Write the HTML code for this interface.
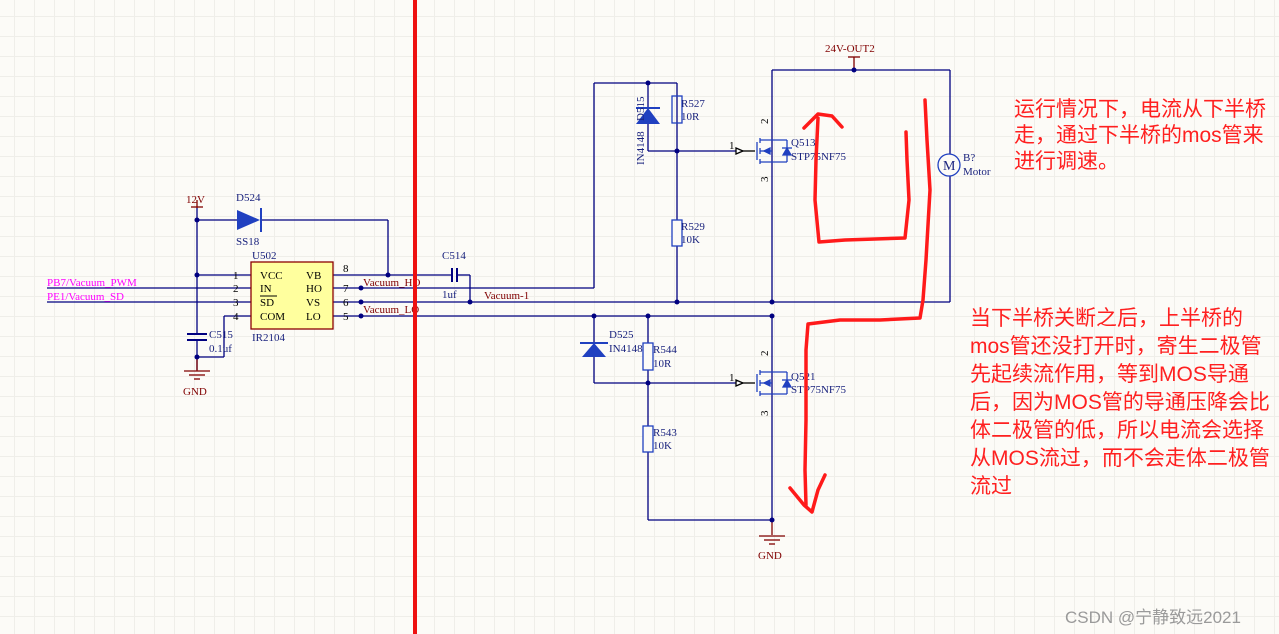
<!DOCTYPE html>
<html><head><meta charset="utf-8">
<style>
html,body{margin:0;padding:0;}
body{width:1279px;height:634px;overflow:hidden;position:relative;background:#fcfbf7;
background-image:linear-gradient(#efeee9 1px,transparent 1px),linear-gradient(90deg,#efeee9 1px,transparent 1px);background-size:20px 20px;background-position:-6px -4px;}
svg{position:absolute;left:0;top:0;}
.t{position:absolute;color:#ff2020;font-family:"Liberation Sans","Noto Sans CJK SC",sans-serif;font-size:21px;line-height:28px;white-space:nowrap;}
</style></head><body>
<svg width="1279" height="634" viewBox="0 0 1279 634" font-family="Liberation Serif, serif" font-size="11">
<g stroke="#000080" stroke-width="1.3" fill="none">
<line x1="197" y1="208" x2="197" y2="335"/>
<line x1="197" y1="340" x2="197" y2="370"/>
<line x1="197" y1="220" x2="237" y2="220"/>
<line x1="260" y1="220" x2="388" y2="220"/>
<line x1="388" y1="220" x2="388" y2="275"/>
<line x1="197" y1="275" x2="251" y2="275"/>
<line x1="47" y1="288" x2="251" y2="288"/>
<line x1="47" y1="302" x2="251" y2="302"/>
<line x1="251" y1="316" x2="224" y2="316"/>
<line x1="224" y1="316" x2="224" y2="357"/>
<line x1="224" y1="357" x2="197" y2="357"/>
<line x1="187" y1="334" x2="207" y2="334" stroke-width="2"/>
<line x1="187" y1="340" x2="207" y2="340" stroke-width="2"/>
<line x1="333" y1="275" x2="452" y2="275"/>
<line x1="452" y1="268" x2="452" y2="282" stroke-width="2"/>
<line x1="457" y1="268" x2="457" y2="282" stroke-width="2"/>
<line x1="457" y1="275" x2="470" y2="275"/>
<line x1="470" y1="275" x2="470" y2="302"/>
<line x1="333" y1="288" x2="594" y2="288"/>
<line x1="594" y1="288" x2="594" y2="83"/>
<line x1="594" y1="83" x2="677" y2="83"/>
<line x1="333" y1="302" x2="950" y2="302"/>
<line x1="333" y1="316" x2="772" y2="316"/>
<line x1="648" y1="83" x2="648" y2="151"/>
<line x1="677" y1="83" x2="677" y2="302"/>
<line x1="648" y1="151" x2="740" y2="151"/>
<rect x="672" y="96" width="10" height="27" fill="none" stroke="#2040c0"/>
<rect x="672" y="220" width="10" height="26" fill="#fcfbf7" stroke="#2040c0"/>
<line x1="772" y1="70" x2="772" y2="302"/>
<line x1="772" y1="70" x2="950" y2="70"/>
<line x1="854" y1="57" x2="854" y2="70" stroke="#800000"/>
<line x1="848" y1="57" x2="860" y2="57" stroke="#800000"/>
<line x1="950" y1="70" x2="950" y2="155"/>
<line x1="950" y1="176" x2="950" y2="302"/>
<circle cx="949" cy="165" r="11" fill="#fcfbf7" stroke="#2040c0"/>
<line x1="594" y1="316" x2="594" y2="383"/>
<line x1="648" y1="316" x2="648" y2="520"/>
<line x1="594" y1="383" x2="740" y2="383"/>
<rect x="643" y="343" width="10" height="27" fill="#fcfbf7" stroke="#2040c0"/>
<rect x="643" y="426" width="10" height="26" fill="#fcfbf7" stroke="#2040c0"/>
<line x1="772" y1="316" x2="772" y2="520"/>
<line x1="648" y1="520" x2="772" y2="520"/>
<line x1="772" y1="520" x2="772" y2="535" stroke="#800000"/>
</g>
<g stroke="#2040c0" stroke-width="1.3" fill="none">
<g id="q1">
<line x1="740" y1="151" x2="755" y2="151" stroke="#000"/>
<path d="M736,148 L743,151 L736,154 Z" fill="#fff" stroke="#000"/>
<line x1="757" y1="142" x2="757" y2="160"/>
<line x1="760" y1="138" x2="760" y2="143"/><line x1="760" y1="148" x2="760" y2="154"/><line x1="760" y1="159" x2="760" y2="164"/>
<line x1="760" y1="140" x2="787" y2="140"/><line x1="760" y1="162" x2="787" y2="162"/>
<line x1="760" y1="151" x2="772" y2="151"/>
<line x1="787" y1="140" x2="787" y2="162"/>
<path d="M764,151 L770,148 L770,154Z" fill="#2040c0"/>
<path d="M783,155 L787,148 L791,155Z" fill="#2040c0"/><line x1="782" y1="148" x2="792" y2="148"/>
</g>
<use href="#q1" transform="translate(0,232)"/>
</g>
<path d="M237,210 L260,220 L237,230Z" fill="#2040c0"/><line x1="261" y1="208" x2="261" y2="232" stroke="#2040c0" stroke-width="2"/>
<path d="M636,124 L648,108 L660,124Z" fill="#2040c0"/><line x1="636" y1="108" x2="660" y2="108" stroke="#2040c0" stroke-width="2"/>
<path d="M582,357 L594,343 L606,357Z" fill="#2040c0"/><line x1="580" y1="343" x2="608" y2="343" stroke="#2040c0" stroke-width="2"/>
<g stroke="#800000" stroke-width="1.3">
<line x1="197" y1="357" x2="197" y2="371"/>
<line x1="184" y1="371" x2="210" y2="371"/><line x1="189" y1="375" x2="205" y2="375"/><line x1="194" y1="379" x2="200" y2="379"/>
<line x1="759" y1="536" x2="785" y2="536"/><line x1="764" y1="540" x2="780" y2="540"/><line x1="769" y1="544" x2="775" y2="544"/>
<line x1="197" y1="200" x2="197" y2="208"/><line x1="191" y1="207" x2="203" y2="207"/>
</g>
<rect x="251" y="262" width="82" height="67" fill="#ffff9e" stroke="#8b0000" stroke-width="1.3"/>
<g fill="#000080">
<circle cx="197" cy="220" r="2.5"/><circle cx="197" cy="275" r="2.5"/><circle cx="197" cy="357" r="2.5"/>
<circle cx="388" cy="275" r="2.5"/><circle cx="361" cy="288" r="2.5"/><circle cx="361" cy="302" r="2.5"/><circle cx="361" cy="316" r="2.5"/>
<circle cx="470" cy="302" r="2.5"/><circle cx="648" cy="83" r="2.5"/><circle cx="677" cy="151" r="2.5"/><circle cx="854" cy="70" r="2.5"/>
<circle cx="677" cy="302" r="2.5"/><circle cx="772" cy="302" r="2.5"/><circle cx="594" cy="316" r="2.5"/><circle cx="648" cy="316" r="2.5"/><circle cx="772" cy="316" r="2.5"/>
<circle cx="648" cy="383" r="2.5"/><circle cx="772" cy="520" r="2.5"/>
</g>
<g fill="#000000" font-size="11">
<text x="233" y="279">1</text><text x="233" y="292">2</text><text x="233" y="306">3</text><text x="233" y="320">4</text>
<text x="343" y="272">8</text><text x="343" y="292">7</text><text x="343" y="306">6</text><text x="343" y="320">5</text>
<text x="260" y="279">VCC</text><text x="260" y="292">IN</text><text x="260" y="306">SD</text><text x="260" y="320">COM</text>
<text x="306" y="279">VB</text><text x="306" y="292">HO</text><text x="306" y="306">VS</text><text x="306" y="320">LO</text>
<text x="729" y="149">1</text><text x="729" y="381">1</text>
</g>
<line x1="260" y1="296" x2="277" y2="296" stroke="#000" stroke-width="1"/>
<g fill="#800000" font-size="11">
<text x="186" y="203">12V</text><text x="183" y="395">GND</text><text x="758" y="559">GND</text><text x="825" y="52">24V-OUT2</text>
<text x="363" y="286">Vacuum_HO</text><text x="363" y="313">Vacuum_LO</text><text x="484" y="299">Vacuum-1</text>
</g>
<g fill="#ff00ff" font-size="11"><text x="47" y="286">PB7/Vacuum_PWM</text><text x="47" y="300">PE1/Vacuum_SD</text></g>
<g fill="#1a237e" font-size="11">
<text x="236" y="201">D524</text><text x="236" y="245">SS18</text><text x="252" y="259">U502</text><text x="252" y="341">IR2104</text>
<text x="209" y="338">C515</text><text x="209" y="352">0.1uf</text>
<text x="442" y="259">C514</text><text x="442" y="298">1uf</text>
<text x="681" y="107">R527</text><text x="681" y="120">10R</text>
<text x="681" y="230">R529</text><text x="681" y="243">10K</text>
<text x="609" y="338">D525</text><text x="609" y="352">IN4148</text>
<text x="653" y="353">R544</text><text x="653" y="367">10R</text>
<text x="653" y="436">R543</text><text x="653" y="449">10K</text>
<text x="791" y="146">Q513</text><text x="791" y="160">STP75NF75</text>
<text x="791" y="380">Q521</text><text x="791" y="393">STP75NF75</text>
<text x="963" y="161">B?</text><text x="963" y="175">Motor</text>
<text x="943" y="170" font-size="14">M</text>
<text transform="translate(644,121) rotate(-90)">D515</text>
<text transform="translate(644,165) rotate(-90)">IN4148</text>
<text transform="translate(768,124) rotate(-90)" fill="#000">2</text>
<text transform="translate(768,182) rotate(-90)" fill="#000">3</text>
<text transform="translate(768,356) rotate(-90)" fill="#000">2</text>
<text transform="translate(768,416) rotate(-90)" fill="#000">3</text>
</g>
<rect x="413" y="0" width="4" height="634" fill="#ee1111"/>
<g stroke="#ff1a1a" stroke-width="3.5" fill="none" stroke-linecap="round" stroke-linejoin="round">
<path d="M818,118 L816,160 L815,200 L819,242 L845,240 L905,238 L909,200 L907,160 L906,132"/>
<path d="M804,128 L818,114 L832,116 L842,127"/>
<path d="M925,100 L927,140 L930,190 L926,260 L923,300 L920,318 L880,320 L840,320 L808,324 L806,350 L806,420 L805,470 L806,505"/>
<path d="M790,488 L804,505 L812,512 L818,490 L825,475"/>
</g>
</svg>
<div class="t" style="left:1014px;top:97px;line-height:26px;">运行情况下，电流从下半桥<br>走，通过下半桥的mos管来<br>进行调速。</div>
<div class="t" style="left:970px;top:305px;">当下半桥关断之后，上半桥的<br>mos管还没打开时，寄生二极管<br>先起续流作用，等到MOS导通<br>后，因为MOS管的导通压降会比<br>体二极管的低，所以电流会选择<br>从MOS流过，而不会走体二极管<br>流过</div>
<div style="position:absolute;left:1065px;top:603px;font-family:'Liberation Sans','Noto Sans CJK SC',sans-serif;font-size:17px;color:#9a9a9a;">CSDN @宁静致远2021</div>
</body></html>
